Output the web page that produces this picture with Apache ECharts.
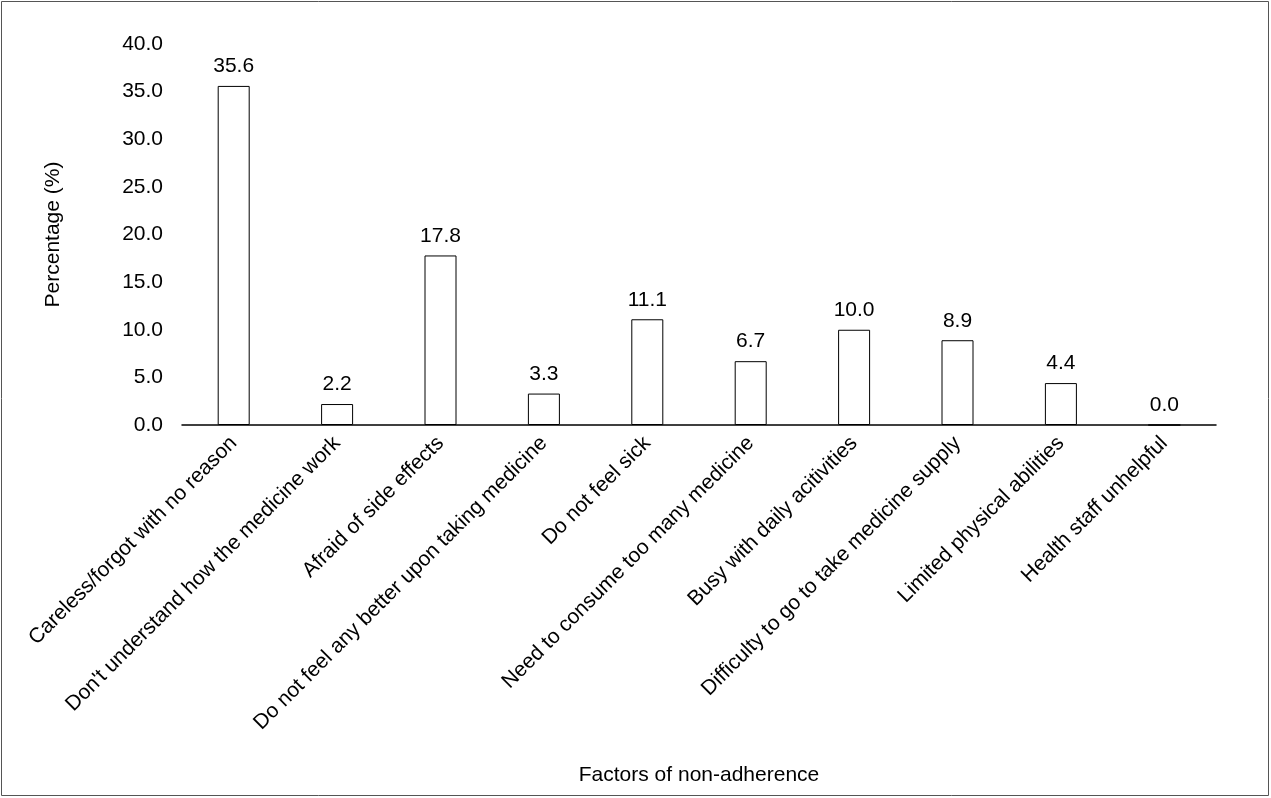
<!DOCTYPE html>
<html>
<head>
<meta charset="utf-8">
<script src="https://cdn.jsdelivr.net/npm/echarts@6/dist/echarts.min.js"></script>
<style>
html,body{margin:0;padding:0;background:#fff;}
#chart{width:1271px;height:798px;}
</style>
</head>
<body>
<div id="chart"></div>
<script>
const categories = [
  "Careless/forgot with no reason",
  "Don't understand how the medicine work",
  "Afraid of side effects",
  "Do not feel any better upon taking medicine",
  "Do not feel sick",
  "Need to consume too many medicine",
  "Busy with daily acitivities",
  "Difficulty to go to take medicine supply",
  "Limited physical abilities",
  "Health staff unhelpful"
];
const percentages = [35.6, 2.2, 17.8, 3.3, 11.1, 6.7, 10.0, 8.9, 4.4, 0.0];
const yAxisTitle = "Percentage (%)";
const xAxisTitle = "Factors of non-adherence";

const FONT = '"Liberation Sans", Arial, sans-serif';
const FS = 21;
const chart = echarts.init(document.getElementById('chart'), null, {renderer: 'canvas'});
chart.setOption({
  animation: false,
  backgroundColor: '#fff',
  textStyle: {fontFamily: FONT, color: '#000'},
  graphic: [{
    type: 'rect', silent: true,
    shape: {x: 1.5, y: 1.5, width: 1267, height: 794},
    style: {fill: null, stroke: '#555', lineWidth: 1}
  }],
  grid: {left: 182, right: 55, top: 44, bottom: 373, containLabel: false},
  xAxis: {
    type: 'category',
    data: categories,
    axisLine: {show: true, lineStyle: {color: '#000', width: 1.5}},
    axisTick: {show: false},
    axisLabel: {rotate: 45, interval: 0, fontSize: FS, color: '#000', fontFamily: FONT, margin: 15},
    name: xAxisTitle,
    nameLocation: 'middle',
    nameGap: 340,
    nameTextStyle: {fontSize: FS, color: '#000', fontFamily: FONT}
  },
  yAxis: {
    type: 'value',
    min: 0, max: 40, interval: 5,
    axisLine: {show: false},
    axisTick: {show: false},
    splitLine: {show: false},
    axisLabel: {fontSize: FS, color: '#000', fontFamily: FONT, margin: 19,
      formatter: v => v.toFixed(1)},
    name: yAxisTitle,
    nameLocation: 'middle',
    nameGap: 118,
    nameRotate: 90,
    nameTextStyle: {fontSize: FS, color: '#000', fontFamily: FONT}
  },
  series: [{
    type: 'bar',
    data: percentages,
    barWidth: 32,
    itemStyle: {color: '#fff', borderColor: '#000', borderWidth: 1},
    label: {show: true, position: 'top', distance: 9, fontSize: FS, color: '#000', fontFamily: FONT,
      formatter: p => p.value.toFixed(1)}
  }]
});
</script>
</body>
</html>
